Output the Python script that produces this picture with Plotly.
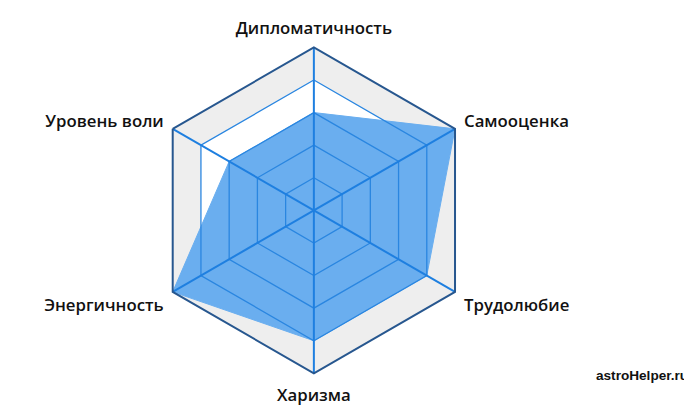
import plotly.graph_objects as go

categories = ['Дипломатичность', 'Самооценка', 'Трудолюбие', 'Харизма', 'Энергичность', 'Уровень воли']
values = [3, 5, 4, 4, 5, 3]
levels = [1, 2, 3, 4, 5]

closed_cats = categories + [categories[0]]
closed_vals = values + [values[0]]

fig = go.Figure()

# outer grey band and inner white area
fig.add_trace(go.Scatterpolar(r=[levels[-1]] * 7, theta=closed_cats, fill='toself',
                              fillcolor='#eeeeee', line=dict(width=0), mode='lines', hoverinfo='skip'))
fig.add_trace(go.Scatterpolar(r=[levels[-2]] * 7, theta=closed_cats, fill='toself',
                              fillcolor='white', line=dict(width=0), mode='lines', hoverinfo='skip'))

# data polygon
fig.add_trace(go.Scatterpolar(r=closed_vals, theta=closed_cats, fill='toself',
                              fillcolor='#6aaeef', line=dict(color='#6aaeef', width=1), mode='lines'))

# grid drawn on top of the fill
for lv in levels[:-1]:
    fig.add_trace(go.Scatterpolar(r=[lv] * 7, theta=closed_cats, mode='lines',
                                  line=dict(color='#2a86e0', width=1.3), hoverinfo='skip'))
for cat in categories:
    fig.add_trace(go.Scatterpolar(r=[0, levels[-1]], theta=[cat, cat], mode='lines',
                                  line=dict(color='#1e7fe0', width=2), hoverinfo='skip'))

fig.update_layout(
    width=692, height=408,
    margin=dict(l=0, r=0, t=0, b=0),
    paper_bgcolor='white',
    showlegend=False,
    font=dict(family='Open Sans', color='#111111'),
    polar=dict(
        domain=dict(x=[0.205, 0.679], y=[0.1045, 0.9035]),
        bgcolor='white',
        gridshape='linear',
        radialaxis=dict(range=[0, 5], showgrid=False, showticklabels=False, ticks='',
                        showline=False),
        angularaxis=dict(rotation=90, direction='clockwise', showgrid=False,
                         ticks='outside', ticklen=6, tickcolor='rgba(0,0,0,0)',
                         linecolor='#27578f', linewidth=2,
                         tickfont=dict(size=16.8, family='Open Sans', weight=600, color='#111111')),
    ),
    annotations=[dict(text='astroHelper.ru', x=0.986, y=0.100, xref='paper', yref='paper',
                      xanchor='right', yanchor='middle', showarrow=False,
                      font=dict(family='Liberation Sans', size=13.6, weight='bold', color='#111111'))],
)

fig.write_html("out.html")
